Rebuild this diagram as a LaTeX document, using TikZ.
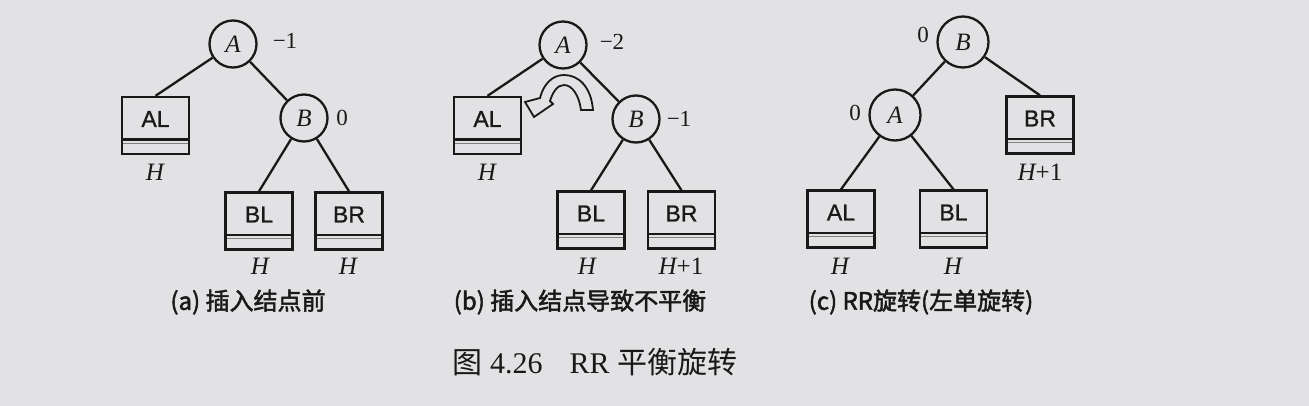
\documentclass[tikz,border=0pt]{standalone}
\usepackage{fontspec}
\setmainfont{Liberation Serif}
\newfontfamily\cjkfont{Noto Sans CJK SC}
\newfontfamily\cjkbold[FakeBold=2]{Noto Sans CJK SC}
\newfontfamily\boxfont[FakeBold=1]{Liberation Sans}
\definecolor{bg}{RGB}{226,226,229}
\definecolor{ink}{RGB}{25,25,25}
\begin{document}
\begin{tikzpicture}[x=1pt,y=-1pt,
  circ/.style={draw=ink, line width=2.3pt, circle, minimum size=47pt, inner sep=0pt,
    font=\fontsize{25}{25}\selectfont\itshape, text=ink},
  bigcirc/.style={circ, minimum size=51pt},
  tbox/.style={draw=ink, line width=2.3pt, minimum width=67pt, minimum height=57pt, inner sep=0pt,
    path picture={
      \draw[ink, line width=2.6pt] ([yshift=14.5pt]path picture bounding box.south west) -- ([yshift=14.5pt]path picture bounding box.south east);
      \draw[ink!55, line width=0.9pt] ([yshift=11pt]path picture bounding box.south west) -- ([yshift=11pt]path picture bounding box.south east);
    }},
  btext/.style={font=\boxfont\fontsize{23}{23}\selectfont, text=ink, inner sep=0pt},
  bal/.style={font=\fontsize{23}{23}\selectfont, text=ink, inner sep=0pt},
  hl/.style={font=\fontsize{25}{25}\selectfont, text=ink, inner sep=0pt},
  link/.style={draw=ink, line width=2.3pt},
  subcap/.style={font=\cjkbold\fontsize{24}{24}\selectfont, text=ink, inner sep=0pt},
  figcap/.style={font=\fontsize{30}{30}\selectfont, text=ink, inner sep=0pt}
]
\useasboundingbox[fill=bg] (0,0) rectangle (1309,406);

% ---------- (a) ----------
\node[circ] (A1) at (233,44) {A};
\node[bal] (A1b) at (285,41) {−1};
\node[tbox] (AL1) at (155.5,125.5) {};
\node[btext] (AL1t) at (155.5,119) {AL};
\node[hl] (AL1h) at (155,172) {\itshape H};
\node[circ] (B1) at (304,118) {B};
\node[bal] (B1b) at (342,118) {0};
\node[tbox] (BL1) at (259,221) {};
\node[btext] (BL1t) at (259,214.5) {BL};
\node[hl] (BL1h) at (260,266) {\itshape H};
\node[tbox] (BR1) at (349,221) {};
\node[btext] (BR1t) at (349,214.5) {BR};
\node[hl] (BR1h) at (348,266) {\itshape H};
\draw[link] (A1) -- (AL1.north);
\draw[link] (A1) -- (B1);
\draw[link] (B1) -- (BL1.north);
\draw[link] (B1) -- (BR1.north);
\node[subcap] (capa) at (248,302) {(a) 插入结点前};

% ---------- (b) ----------
\node[circ] (A2) at (563,45) {A};
\node[bal] (A2b) at (612,42) {−2};
\node[tbox] (AL2) at (487.5,125.5) {};
\node[btext] (AL2t) at (487.5,119) {AL};
\node[hl] (AL2h) at (487,172) {\itshape H};
\node[circ] (B2) at (636,119) {B};
\node[bal] (B2b) at (679,119) {−1};
\node[tbox] (BL2) at (591,220) {};
\node[btext] (BL2t) at (591,213.5) {BL};
\node[hl] (BL2h) at (587,266) {\itshape H};
\node[tbox] (BR2) at (681.5,220) {};
\node[btext] (BR2t) at (681.5,213.5) {BR};
\node[hl] (BR2h) at (681,266) {\itshape H\upshape+1};
\draw[link] (A2) -- (AL2.north);
\draw[link] (A2) -- (B2);
\draw[link] (B2) -- (BL2.north);
\draw[link] (B2) -- (BR2.north);
% rotation arrow
\draw[ink, line width=1.8pt, fill=bg, line join=miter]
  (593,110) .. controls (591,86) and (578,75) .. (564,75)
  .. controls (551,75) and (543,86) .. (540,98)
  -- (525,102) -- (534,117) -- (553,104) -- (550,101)
  .. controls (553,91) and (558,85) .. (564,85)
  .. controls (572,85) and (579,95) .. (581,110) -- cycle;
\node[subcap] (capb) at (580,302) {(b) 插入结点导致不平衡};

% ---------- (c) ----------
\node[bigcirc] (B3) at (963,42) {B};
\node[bal] (B3b) at (923,35) {0};
\node[bigcirc] (A3) at (895,115) {A};
\node[bal] (A3b) at (855,113) {0};
\node[tbox] (BR3) at (1040,125) {};
\node[btext] (BR3t) at (1040,118.5) {BR};
\node[hl] (BR3h) at (1040,172) {\itshape H\upshape+1};
\node[tbox] (AL3) at (841,219) {};
\node[btext] (AL3t) at (841,212.5) {AL};
\node[hl] (AL3h) at (840,266) {\itshape H};
\node[tbox] (BL3) at (953.5,219) {};
\node[btext] (BL3t) at (953.5,212.5) {BL};
\node[hl] (BL3h) at (953,266) {\itshape H};
\draw[link] (B3) -- (A3);
\draw[link] (B3) -- (BR3.north);
\draw[link] (A3) -- (AL3.north);
\draw[link] (A3) -- (BL3.north);
\node[subcap] (capc) at (921,302) {(c) RR旋转(左单旋转)};

% ---------- figure caption ----------
\node[figcap] (fig) at (595,362) {{\cjkfont 图} 4.26\hspace{0.9em}RR {\cjkfont 平衡旋转}};
\end{tikzpicture}
\end{document}
